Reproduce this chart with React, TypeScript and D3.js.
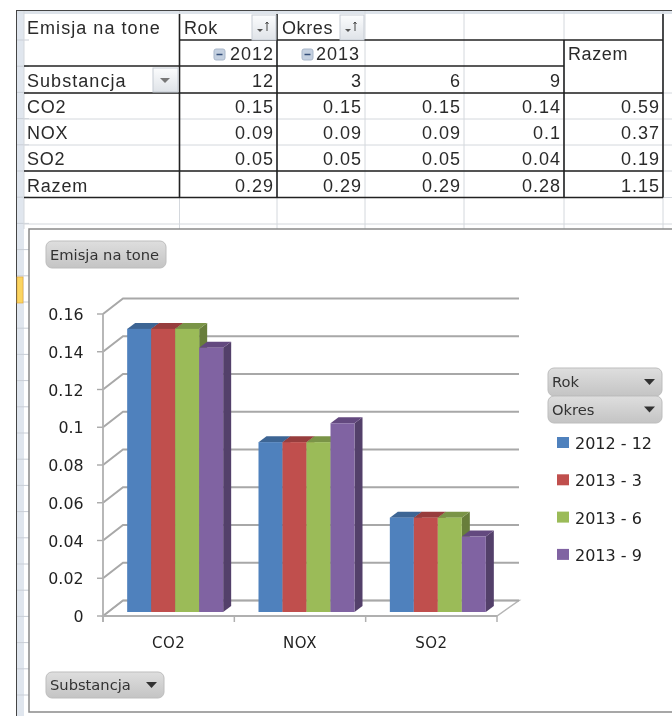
import React from "react"
import * as d3 from "d3"

const categories = ["CO2", "NOX", "SO2"]
const seriesNames = ["2012 - 12", "2013 - 3", "2013 - 6", "2013 - 9"]
const seriesColors = ["#4f81bd", "#c0504d", "#9bbb59", "#8064a2"]
const seriesTops = ["#3d6594", "#973e3c", "#7a9446", "#64497f"]
const seriesSides = ["#34577f", "#813533", "#677e3b", "#533f6b"]
const s2012m12 = [0.15, 0.09, 0.05]
const s2013m3 = [0.15, 0.09, 0.05]
const s2013m6 = [0.15, 0.09, 0.05]
const s2013m9 = [0.14, 0.1, 0.04]
const seriesValues = [s2012m12, s2013m3, s2013m6, s2013m9]
const yTicks = [0, 0.02, 0.04, 0.06, 0.08, 0.1, 0.12, 0.14, 0.16]

const tableRows = ["CO2", "NOX", "SO2", "Razem"]
const tableCols = ["12", "3", "6", "9"]
const tableValues = [
  ["0.15", "0.15", "0.15", "0.14", "0.59"],
  ["0.09", "0.09", "0.09", "0.1", "0.37"],
  ["0.05", "0.05", "0.05", "0.04", "0.19"],
  ["0.29", "0.29", "0.29", "0.28", "1.15"],
]

const colX = [24, 179.5, 277, 365, 464, 564, 663]
const rowY = [14, 40, 66, 93, 119, 145, 171, 197.5, 224]
const dark = "#222"
const light = "#d4d8dd"
const tableFont = "'Liberation Sans', Arial, sans-serif"
const chartFont = "'DejaVu Sans', sans-serif"

const yScale = d3.scaleLinear().domain([0, 0.16]).range([616, 314])
const xScale = d3.scaleBand<string>().domain(categories).range([103, 497])
const barScale = d3.scaleBand<string>().domain(seriesNames).range([0, 96])
const depthX = 20
const depthY = 15.5
const barDepthX = 8
const barDepthY = 6
const barBase = 612
const wallRight = 519

function PivotButton({ x, y, w, h, label, arrow }: { x: number; y: number; w: number; h: number; label: string; arrow?: boolean }) {
  return (
    <g>
      <rect x={x} y={y} width={w} height={h} rx={6} fill="url(#btn)" stroke="#bdbdbd" />
      <text x={x + 4} y={y + h / 2 + 5} fontSize={14.7} fill="#333" fontFamily={chartFont}>{label}</text>
      {arrow && <path d={`M${x + w - 18},${y + h / 2 - 3}h11l-5.5,6z`} fill="#333" />}
    </g>
  )
}

function SortIcon({ x, y }: { x: number; y: number }) {
  return (
    <g>
      <rect x={x} y={y} width={24} height={25} fill="url(#cellBtn)" stroke="#c6ccd4" />
      <path d={`M${x + 5},${y + 14}h6l-3,3z`} fill="#555" />
      <path d={`M${x + 15},${y + 16}v-9m-1.5,2l1.5,-2l1.5,2`} stroke="#444" fill="none" />
    </g>
  )
}

function MinusIcon({ x, y }: { x: number; y: number }) {
  return (
    <g>
      <rect x={x} y={y} width={11} height={11} rx={2} fill="#c4d0e0" stroke="#a9b7ca" />
      <path d={`M${x + 2.5},${y + 5.5}h6`} stroke="#34507a" strokeWidth={1.5} />
    </g>
  )
}

export default function App() {
  return (
    <svg width={672} height={716} style={{ position: "absolute", left: 0, top: 0, background: "#fff" }}>
      <defs>
        <linearGradient id="btn" x1="0" x2="0" y1="0" y2="1">
          <stop offset="0" stopColor="#dedede" />
          <stop offset="1" stopColor="#c4c4c4" />
        </linearGradient>
        <linearGradient id="cellBtn" x1="0" x2="0" y1="0" y2="1">
          <stop offset="0" stopColor="#fbfcfd" />
          <stop offset="1" stopColor="#dfe3e8" />
        </linearGradient>
        <filter id="soft" x="0" y="0" width="100%" height="100%">
          <feGaussianBlur stdDeviation="0.45" />
        </filter>
      </defs>
      <g filter="url(#soft)">
        {/* sheet frame */}
        <rect x={16} y={10} width={8} height={706} fill="#e0e6ee" />
        <rect x={16} y={10} width={656} height={4} fill="#dde3ea" />
        {d3.range(40, 716, 26.2).map(y => (
          <line key={y} x1={16} x2={29} y1={y} y2={y} stroke="#c9ced6" />
        ))}
        {colX.map(x => (
          <line key={x} x1={x} x2={x} y1={10} y2={229} stroke={light} />
        ))}
        {rowY.slice(3).map(y => (
          <line key={y} x1={24} x2={672} y1={y} y2={y} stroke={light} />
        ))}
        <line x1={16} x2={672} y1={10} y2={10} stroke="#444" strokeWidth={2} />
        <line x1={16} x2={16} y1={10} y2={716} stroke="#444" strokeWidth={2} />
        <rect x={17} y={277} width={6} height={26} fill="#fbd561" stroke="#e4a93c" strokeWidth={0.7} />

        {/* pivot table borders */}
        <g stroke={dark} strokeWidth={1.6}>
          <line x1={179.5} x2={663} y1={40} y2={40} />
          <line x1={24} x2={564} y1={66} y2={66} />
          <line x1={24} x2={663} y1={93} y2={93} />
          <line x1={24} x2={663} y1={171} y2={171} />
          <line x1={24} x2={663} y1={197.5} y2={197.5} />
          <line x1={179.5} x2={179.5} y1={14} y2={197.5} />
          <line x1={277} x2={277} y1={14} y2={197.5} />
          <line x1={564} x2={564} y1={40} y2={197.5} />
          <line x1={663} x2={663} y1={14} y2={197.5} />
        </g>
        <g fontFamily={tableFont} fontSize={18} fill="#2a2a2a">
          <text x={27} y={34} letterSpacing={1.05}>Emisja na tone</text>
          <text x={184} y={34} letterSpacing={0.6}>Rok</text>
          <text x={282} y={34} letterSpacing={0.6}>Okres</text>
          <text x={274} y={60} textAnchor="end" letterSpacing={1}>2012</text>
          <text x={316} y={60} letterSpacing={1}>2013</text>
          <text x={568} y={60} letterSpacing={0.6}>Razem</text>
          <text x={27} y={87} letterSpacing={1.05}>Substancja</text>
          {tableCols.map((c, i) => (
            <text key={c} x={colX[i + 2] - 3} y={87} textAnchor="end" letterSpacing={1}>{c}</text>
          ))}
          {tableRows.map((r, i) => (
            <text key={r} x={27} y={rowY[i + 4] - 6} letterSpacing={0.8}>{r}</text>
          ))}
          {tableValues.map((row, i) =>
            row.map((v, j) => (
              <text key={j} x={colX[j + 2] - 3} y={rowY[i + 4] - 6} textAnchor="end" letterSpacing={1}>{v}</text>
            ))
          )}
        </g>
        <SortIcon x={252} y={15} />
        <SortIcon x={340} y={15} />
        <MinusIcon x={214} y={49} />
        <MinusIcon x={302} y={49} />
        <rect x={153} y={68} width={25} height={24} fill="url(#cellBtn)" stroke="#c6ccd4" />
        <path d="M160,78h10l-5,5z" fill="#777" />

        {/* chart area */}
        <rect x={29} y={229} width={650} height={483} fill="#fff" stroke="#8a8a8a" strokeWidth={1.5} />
        <PivotButton x={46} y={241} w={120} h={27} label="Emisja na tone" />
        <PivotButton x={46} y={672} w={118} h={26} label="Substancja" arrow />
        <PivotButton x={548} y={368} w={114} h={28} label="Rok" arrow />
        <PivotButton x={548} y={396} w={114} h={27} label="Okres" arrow />

        {/* floor and walls */}
        <path
          d={`M103,${yScale(0)}L${103 + depthX},${yScale(0) - depthY}H${wallRight}L${xScale.range()[1]},${yScale(0)}Z`}
          fill="#fff"
          stroke="#b5b5b5"
          strokeWidth={1.5}
        />
        {yTicks.map(v => (
          <g key={v} fill="none" stroke="#a8a8a8" strokeWidth={2}>
            <path d={`M103,${yScale(v)}l${depthX},${-depthY}H${wallRight}`} />
            <line x1={97} x2={103} y1={yScale(v)} y2={yScale(v)} strokeWidth={1.4} />
          </g>
        ))}
        <line x1={103} x2={103} y1={yScale(0.16)} y2={yScale(0) + 6} stroke="#b0b0b0" strokeWidth={1.8} />
        <line x1={103} x2={xScale.range()[1]} y1={yScale(0)} y2={yScale(0)} stroke="#b0b0b0" strokeWidth={2.2} />
        {[...categories.map(c => xScale(c) as number), xScale.range()[1]].map(x => (
          <line key={x} x1={x} x2={x} y1={yScale(0)} y2={yScale(0) + 6} stroke="#b0b0b0" strokeWidth={1.5} />
        ))}

        {/* bars */}
        {categories.map((c, ci) => {
          const groupX = (xScale(c) as number) + (xScale.bandwidth() - 96) / 2 + 6.5
          return (
            <g key={c}>
              {seriesNames.map((s, si) => {
                const x = groupX + (barScale(s) as number)
                const w = barScale.bandwidth()
                const h = yScale(0) - yScale(seriesValues[si][ci])
                const top = barBase - h
                return (
                  <g key={s}>
                    <path d={`M${x + w},${top}l${barDepthX},${-barDepthY}V${barBase - barDepthY}l${-barDepthX},${barDepthY}Z`} fill={seriesSides[si]} />
                    <path d={`M${x},${top}l${barDepthX},${-barDepthY}h${w}l${-barDepthX},${barDepthY}Z`} fill={seriesTops[si]} />
                    <rect x={x} y={top} width={w} height={h} fill={seriesColors[si]} />
                  </g>
                )
              })}
            </g>
          )
        })}

        {/* axis labels */}
        <g fontFamily={chartFont} fontSize={15.8} fill="#222">
          {yTicks.map(v => (
            <text key={v} x={83.5} y={yScale(v) + 6} textAnchor="end">{d3.format("~g")(v)}</text>
          ))}
          {categories.map(c => (
            <text key={c} x={(xScale(c) as number) + xScale.bandwidth() / 2} y={648} textAnchor="middle" fontSize={15} letterSpacing={0.5}>{c}</text>
          ))}
          {seriesNames.map((s, i) => (
            <g key={s}>
              <rect x={557} y={437 + i * 37.3} width={12} height={11} fill={seriesColors[i]} />
              <text x={575} y={449 + i * 37.3} fontSize={16}>{s}</text>
            </g>
          ))}
        </g>
      </g>
    </svg>
  )
}
